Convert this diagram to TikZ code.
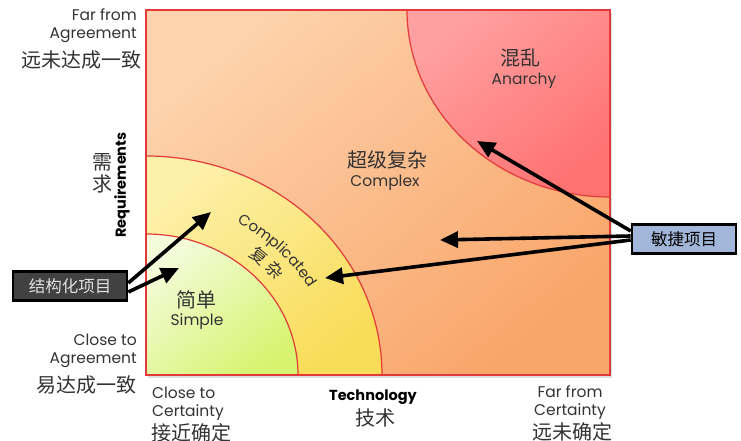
\documentclass[tikz,border=0pt]{standalone}
\usepackage{fontspec}
\setmainfont{Poppins}
\newfontfamily\cjk{Noto Sans CJK SC}
\usetikzlibrary{arrows.meta,shadows,decorations.text}
\definecolor{txtgray}{HTML}{333333}
\definecolor{zonered}{HTML}{E23A3A}
\definecolor{agilefill}{HTML}{A2B6D9}
\definecolor{structfill}{HTML}{414141}
\begin{document}
\begin{tikzpicture}[x=1pt,y=1pt,
  en/.style={font=\fontsize{15.5}{18}\selectfont, text=txtgray, inner sep=0pt},
  enb/.style={font=\bfseries\fontsize{14.5}{16}\selectfont, text=black, inner sep=0pt},
  zh/.style={font=\cjk\fontsize{20}{22}\selectfont, text=txtgray, inner sep=0pt},
  zone/.style={draw=zonered, line width=1.2pt},
  bigarrow/.style={line width=3.6pt, -{Triangle[length=18pt,width=16pt]}},
  projbox/.style={draw=black, line width=2.6pt, minimum height=29pt, inner sep=0pt,
    font=\cjk\fontsize{16.5}{18}\selectfont}
]
\useasboundingbox (0,0) rectangle (741,441);
\fill[white] (0,0) rectangle (741,441);

% main square
\path[zone, drop shadow={opacity=0.25, shadow xshift=2pt, shadow yshift=-3pt},
  shading=axis, top color={rgb,255:red,253;green,210;blue,172}, bottom color={rgb,255:red,249;green,166;blue,106}, shading angle=40]
  (146,66) rectangle (610,431);
% complicated
\path[zone, shading=axis, top color={rgb,255:red,253;green,240;blue,168}, bottom color={rgb,255:red,249;green,220;blue,88}, shading angle=40]
  (146,66) -- (146,285) arc[start angle=90, end angle=0, x radius=236, y radius=219] -- cycle;
% simple
\path[zone, shading=axis, top color={rgb,255:red,244;green,251;blue,218}, bottom color={rgb,255:red,214;green,244;blue,112}, shading angle=40]
  (146,66) -- (146,207) arc[start angle=90, end angle=0, x radius=152, y radius=141] -- cycle;
% anarchy
\path[zone, shading=axis, top color={rgb,255:red,255;green,160;blue,160}, bottom color={rgb,255:red,255;green,114;blue,114}, shading angle=40]
  (610,431) -- (407,431) arc[start angle=180, end angle=270, x radius=203, y radius=187] -- cycle;
\draw[zone] (146,66) rectangle (610,431);

% axis labels
\node[en, anchor=east, align=right] (farA) at (137,415) {Far from\\Agreement};
\node[zh, anchor=east] (farAzh) at (142,381) {远未达成一致};
\node[zh, align=center] (reqzh) at (102,268) {需\\求};
\node[enb, rotate=90] (req) at (122,256) {Requirements};
\node[en, anchor=east, align=right] (closeA) at (137,90) {Close to\\Agreement};
\node[zh, anchor=east] (closeAzh) at (137,56) {易达成一致};
\node[en, anchor=west, align=left] (closeC) at (152,37) {Close to\\Certainty};
\node[zh, anchor=west] (closeCzh) at (151,8) {接近确定};
\node[enb] (tech) at (373,44) {Technology};
\node[zh] (techzh) at (375,23) {技术};
\node[en, align=center] (farC) at (570,38) {Far from\\Certainty};
\node[zh] (farCzh) at (572,9) {远未确定};

% zone labels
\node[zh] (anzh) at (520,383) {混乱};
\node[en] (an) at (524,360) {Anarchy};
\node[zh] (cxzh) at (387,281) {超级复杂};
\node[en] (cx) at (385,258) {Complex};
\node[zh] (smzh) at (196,141) {简单};
\node[en] (sm) at (197,119) {Simple};

% curved labels of the complicated zone
\path[shift={(146,66)}, decorate, decoration={text along path, text align=center,
  text={|\fontsize{15}{16}\selectfont\color{txtgray}|Complicated}}]
  (80:188 and 174) arc[start angle=80, end angle=10, x radius=188, y radius=174];
\path[shift={(146,66)}, decorate, decoration={text along path, text align=center,
  text={|\cjk\fontsize{17}{18}\selectfont\color{txtgray}|复 杂}}]
  (79:165 and 153) arc[start angle=79, end angle=9, x radius=165, y radius=153];

% project boxes
\node[projbox, fill=agilefill, text=black, minimum width=104pt] (agile) at (684,202) {敏捷项目};
\node[projbox, fill=structfill, text=white!88!black, minimum width=114pt] (struct) at (70,155) {结构化项目};

% arrow targets
\coordinate (tAn) at (477,300);
\coordinate (tCx) at (440,201);
\coordinate (tCd) at (325,163);
\coordinate (tS1) at (211,229);
\coordinate (tS2) at (179,173);

\draw[bigarrow] ([yshift=8pt]agile.west) -- (tAn);
\draw[bigarrow] ([yshift=3pt]agile.west) -- (tCx);
\draw[bigarrow] ([yshift=-1pt]agile.west) -- (tCd);
\draw[bigarrow] ([yshift=3pt]struct.east) -- (tS1);
\draw[bigarrow] ([yshift=-6pt]struct.east) -- (tS2);
\end{tikzpicture}
\end{document}
